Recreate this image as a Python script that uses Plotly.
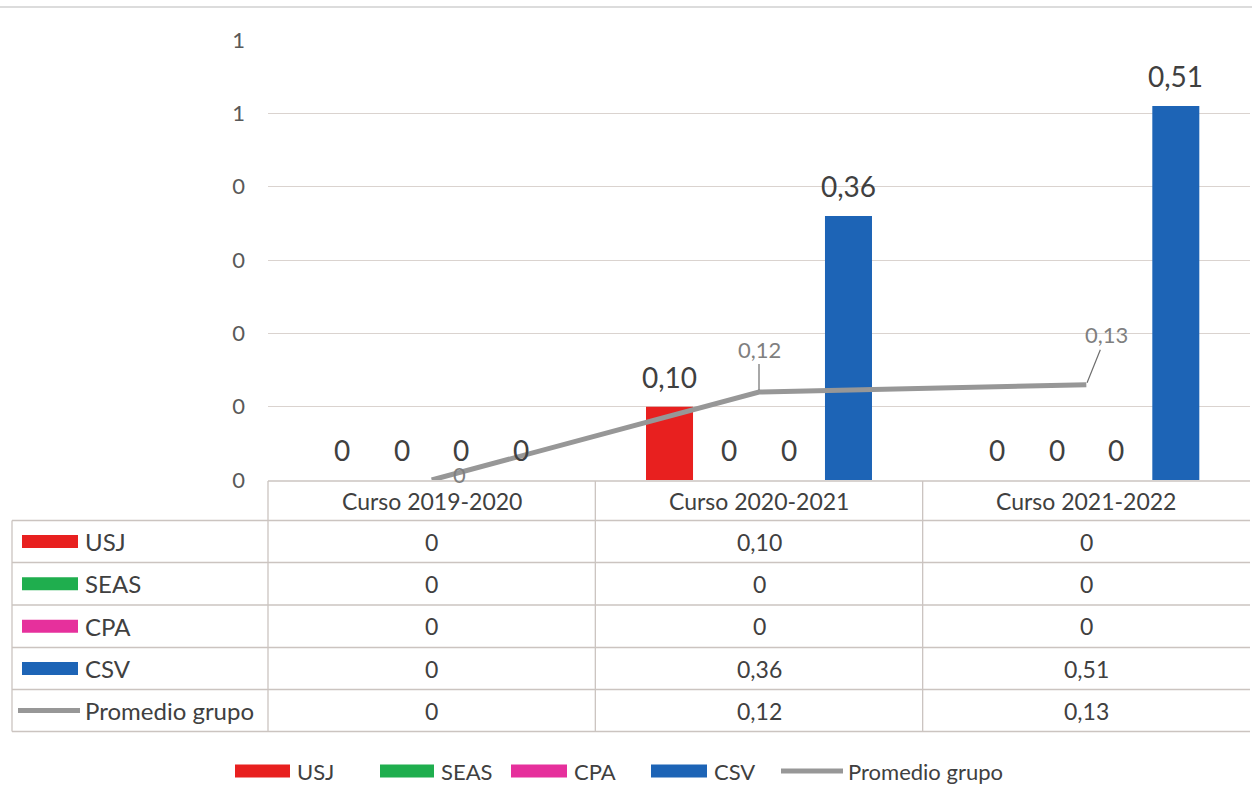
import plotly.graph_objects as go

# ---------------- data ----------------
CATEGORIES = ["Curso 2019-2020", "Curso 2020-2021", "Curso 2021-2022"]
SERIES_NAMES = ["USJ", "SEAS", "CPA", "CSV"]
USJ = [0, 0.10, 0]
SEAS = [0, 0, 0]
CPA = [0, 0, 0]
CSV = [0, 0.36, 0.51]
PROMEDIO = [0, 0.12, 0.13]
LINE_NAME = "Promedio grupo"
Y_TICK_VALUES = [0, 0.1, 0.2, 0.3, 0.4, 0.5, 0.6]
Y_TICK_LABELS = ["0", "0", "0", "0", "0", "1", "1"]

BAR_VALUES = [USJ, SEAS, CPA, CSV]
COLORS = ["#E8201F", "#1FAE4E", "#E6309C", "#1D64B6"]
LINE_COLOR = "#979797"
GRID = "#DAD3CF"
BORDER = "#CBC4C0"
TXT = "#404040"
FONT = "Lato"

W, H = 1252, 785
L, R, T, B = 268, 2, 40, 305
PW, PH = W - L - R, H - T - B


def fmt(v):
    return "0" if v == 0 else f"{v:.2f}".replace(".", ",")


def px(x):
    return (x - L) / PW


def py(y):
    return (H - B - y) / PH


fig = go.Figure()
for name, vals, col in zip(SERIES_NAMES, BAR_VALUES, COLORS):
    fig.add_trace(go.Bar(x=CATEGORIES, y=vals, name=name, marker_color=col,
                         marker_line_width=0, showlegend=False))
fig.add_trace(go.Scatter(x=CATEGORIES, y=PROMEDIO, name=LINE_NAME, mode="lines",
                         line=dict(color=LINE_COLOR, width=5), cliponaxis=False,
                         showlegend=False))

annotations = []
shapes = []

# bar value labels
cat_w = PW / len(CATEGORIES)
bargap, bargroupgap = 0.271, 0.212
slot = cat_w * (1 - bargap) / len(SERIES_NAMES)
for si, vals in enumerate(BAR_VALUES):
    off = (si - (len(SERIES_NAMES) - 1) / 2) * slot
    for ci, v in enumerate(vals):
        annotations.append(dict(x=CATEGORIES[ci], y=v, xref="x", yref="y", text=fmt(v),
                                showarrow=False, xshift=off, yshift=11, yanchor="bottom",
                                xanchor="center",
                                font=dict(family=FONT, size=28, color=TXT)))

# line labels (Excel-style with leader lines)
line_label_pos = [(28, 6, False), (0, -43, True), (20, -50, True)]
for ci, v in enumerate(PROMEDIO):
    dx, dy, arrow = line_label_pos[ci]
    if arrow:
        annotations.append(dict(x=CATEGORIES[ci], y=v, xref="x", yref="y", text=fmt(v),
                                showarrow=True, arrowhead=0, arrowwidth=1.2,
                                arrowcolor="#6F6F6F", ax=dx, ay=dy, standoff=2,
                                font=dict(family=FONT, size=22, color="#7F7F7F")))
    else:
        annotations.append(dict(x=CATEGORIES[ci], y=v, xref="x", yref="y", text=fmt(v),
                                showarrow=False, xshift=dx, yshift=dy,
                                xanchor="center", yanchor="middle",
                                font=dict(family=FONT, size=22, color="#7F7F7F")))

# data table
col_edges = [L + cat_w * k for k in range(len(CATEGORIES) + 1)]
row_edges = [520.5, 562.5, 605, 647.5, 689.5, 731.5]
header_top = 481
left_x = 12


def hline(x0, x1, y, color=BORDER, w=1.3):
    shapes.append(dict(type="line", xref="paper", yref="paper", x0=px(x0), x1=px(x1),
                       y0=py(y), y1=py(y), line=dict(color=color, width=w)))


def vline(x, y0, y1, color=BORDER, w=1.3):
    shapes.append(dict(type="line", xref="paper", yref="paper", x0=px(x), x1=px(x),
                       y0=py(y0), y1=py(y1), line=dict(color=color, width=w)))


def text_at(x, y, s, size, anchor="center", color=TXT):
    annotations.append(dict(x=px(x), y=py(y), xref="paper", yref="paper", text=s,
                            xanchor=anchor, yanchor="middle", showarrow=False,
                            borderpad=0,
                            font=dict(family=FONT, size=size, color=color)))


hline(L, W - 2, header_top)
for y in row_edges:
    hline(left_x, W - 2, y)
vline(left_x, row_edges[0], row_edges[-1])
for x in col_edges[:-1]:
    vline(x, header_top, row_edges[-1])

for ci, c in enumerate(CATEGORIES):
    cx = (col_edges[ci] + col_edges[ci + 1]) / 2
    text_at(cx, (header_top + row_edges[0]) / 2, c, 23)

row_names = SERIES_NAMES + [LINE_NAME]
row_vals = BAR_VALUES + [PROMEDIO]
row_colors = COLORS + [LINE_COLOR]
for ri, (nm, vals, col) in enumerate(zip(row_names, row_vals, row_colors)):
    cy = (row_edges[ri] + row_edges[ri + 1]) / 2
    if ri < len(SERIES_NAMES):
        shapes.append(dict(type="rect", xref="paper", yref="paper", x0=px(22), x1=px(78),
                           y0=py(cy - 6.5), y1=py(cy + 6.5), fillcolor=col, line_width=0))
    else:
        hline(18, 80, cy, color=col, w=5)
    text_at(84, cy, nm, 24, anchor="left")
    for ci, v in enumerate(vals):
        cx = (col_edges[ci] + col_edges[ci + 1]) / 2
        text_at(cx, cy, fmt(v), 23)

# bottom legend
leg_y = 771
leg_items = [(235, 290, 296), (380, 434, 440), (511, 567, 573), (651, 707, 713), (781, 843, 847)]
for i, (nm, col) in enumerate(zip(row_names, row_colors)):
    k0, k1, tx = leg_items[i]
    if i < len(SERIES_NAMES):
        shapes.append(dict(type="rect", xref="paper", yref="paper", x0=px(k0), x1=px(k1),
                           y0=py(leg_y - 6.5), y1=py(leg_y + 6.5), fillcolor=col, line_width=0))
    else:
        hline(k0, k1, leg_y, color=col, w=5)
    text_at(tx, leg_y, nm, 22, anchor="left")

# top border line
hline(0, W, 7, color="#DCDCDC", w=2)

fig.update_layout(
    width=W, height=H, margin=dict(l=L, r=R, t=T, b=B),
    paper_bgcolor="white", plot_bgcolor="white",
    barmode="group", bargap=bargap, bargroupgap=bargroupgap,
    showlegend=False, annotations=annotations, shapes=shapes,
    xaxis=dict(showticklabels=False, showgrid=False, zeroline=False, showline=False,
               ticks="", fixedrange=True),
    yaxis=dict(range=[0, 0.6], tickvals=Y_TICK_VALUES, ticktext=Y_TICK_LABELS,
               showgrid=True, gridcolor=GRID, gridwidth=1.3, zeroline=False,
               showline=False, ticks="", ticklabelstandoff=22,
               tickfont=dict(family=FONT, size=22, color="#595959")),
)

fig.write_html("out.html", config={"displayModeBar": False},
               post_script="document.body.style.margin='0';")
